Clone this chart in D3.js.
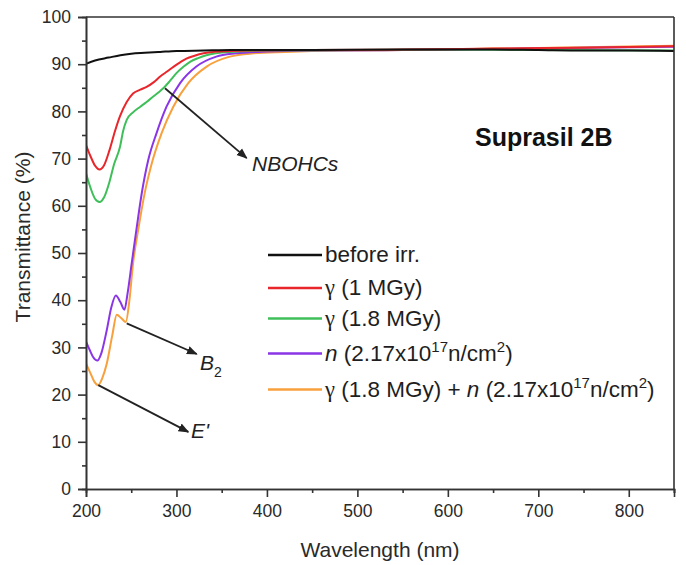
<!DOCTYPE html>
<html>
<head>
<meta charset="utf-8">
<script src="https://cdn.jsdelivr.net/npm/d3@7"></script>
<style>
  body { margin: 0; background: #fff; }
  text { font-family: "Liberation Sans", Arial, sans-serif; }
</style>
</head>
<body>
<div id="chart"></div>
<script>
// data (wavelength nm, transmittance %)
var wlBlack = [200, 210, 225, 238, 250, 265, 282, 300, 330, 360, 450, 550, 650, 700, 750, 800, 850];
var tBlack  = [90.1, 90.8, 91.4, 91.9, 92.2, 92.4, 92.6, 92.8, 92.9, 93.0, 93.0, 93.1, 93.1, 93.0, 92.9, 92.9, 92.8];

var wlRed = [200, 205, 210, 215, 220, 226, 232, 237.6, 245, 252, 260, 267, 275, 282, 290, 297, 304, 311, 320, 330, 348, 380, 450, 550, 650, 750, 850];
var tRed  = [72.9, 70.5, 68.5, 67.7, 68.6, 71.8, 75.8, 79.0, 82.0, 83.8, 84.6, 85.2, 86.2, 87.4, 88.5, 89.5, 90.4, 91.2, 91.8, 92.3, 92.7, 92.9, 93.0, 93.1, 93.3, 93.5, 93.8];

var wlGreen = [200, 205, 210, 215, 220, 226, 231, 237.6, 241, 245, 252, 260, 267, 274, 280, 286, 293, 300, 308, 315, 324, 333, 359, 400, 500, 600, 700, 850];
var tGreen  = [66.9, 63.8, 61.5, 60.8, 61.8, 65.1, 68.8, 72.5, 75.8, 78.2, 79.8, 81.0, 82.0, 83.1, 84.0, 85.0, 86.5, 88.1, 89.5, 90.5, 91.3, 91.9, 92.6, 92.9, 93.0, 93.1, 93.0, 92.9];

var wlPurple = [200, 204, 208, 212.5, 217, 223, 228, 233, 238, 242.5, 246, 250.5, 256, 261.5, 268.8, 278, 289, 304, 322, 344, 366, 400, 450, 550, 650, 750, 850];
var tPurple  = [31.2, 29.5, 27.9, 27.2, 28.8, 33.7, 38.5, 41.0, 39.6, 38.0, 41.5, 47.8, 55.3, 62.5, 69.7, 75.4, 81.0, 86.0, 89.5, 91.6, 92.3, 92.7, 92.9, 93.0, 93.2, 93.5, 93.7];

var wlOrange = [200, 205, 209, 213.5, 218, 223, 229, 234, 239, 244, 248, 252, 257.8, 265.2, 272, 283.6, 296.5, 313, 333.4, 359, 385, 420, 480, 550, 650, 750, 850];
var tOrange  = [26.6, 24.5, 22.8, 22.0, 23.5, 26.6, 32.5, 36.9, 36.2, 35.4, 40.0, 47.8, 55.0, 63.0, 68.5, 75.4, 81.0, 86.0, 89.5, 91.6, 92.3, 92.6, 92.9, 93.0, 93.3, 93.6, 93.9];

var xTicks = [200, 300, 400, 500, 600, 700, 800];
var xMinorTicks = [250, 350, 450, 550, 650, 750, 850];
var yTicks = [0, 10, 20, 30, 40, 50, 60, 70, 80, 90, 100];
var yMinorTicks = [5, 15, 25, 35, 45, 55, 65, 75, 85, 95];

var series = [
  { wl: wlBlack, t: tBlack, color: "#111111" },
  { wl: wlRed, t: tRed, color: "#e8262b" },
  { wl: wlGreen, t: tGreen, color: "#3fbf5a" },
  { wl: wlPurple, t: tPurple, color: "#8a35e6" },
  { wl: wlOrange, t: tOrange, color: "#f7a03c" }
];

var W = 686, H = 565;
var margin = { top: 17, right: 12, bottom: 76, left: 86 };
var width = W - margin.left - margin.right,
    height = H - margin.top - margin.bottom;

var svg = d3.select("#chart").append("svg")
  .attr("width", W)
  .attr("height", H);

var g = svg.append("g")
  .attr("transform", "translate(" + margin.left + "," + margin.top + ")");

var x = d3.scaleLinear().domain([200, 850]).range([0, width]);
var y = d3.scaleLinear().domain([0, 100]).range([height, 0]);

g.append("clipPath").attr("id", "clip")
  .append("rect").attr("width", width).attr("height", height);

var line = d3.line()
  .x(function(d) { return x(d[0]); })
  .y(function(d) { return y(d[1]); })
  .curve(d3.curveMonotoneX);

// back to front: orange, purple, green, red, black
series.slice().reverse().forEach(function(s) {
  var pts = s.wl.map(function(w, i) { return [w, s.t[i]]; });
  g.append("path")
    .datum(pts)
    .attr("clip-path", "url(#clip)")
    .attr("fill", "none")
    .attr("stroke", s.color)
    .attr("stroke-width", 2)
    .attr("d", line);
});

// axes
var axisColor = "#333";
var xAxis = g.append("g")
  .attr("transform", "translate(0," + height + ")")
  .call(d3.axisBottom(x).tickValues(xTicks).tickSize(8).tickPadding(8).tickFormat(d3.format("d")));
var xMinor = g.append("g")
  .attr("transform", "translate(0," + height + ")")
  .call(d3.axisBottom(x).tickValues(xMinorTicks).tickSize(4).tickFormat(""));
var yAxis = g.append("g")
  .call(d3.axisLeft(y).tickValues(yTicks).tickSize(8).tickPadding(7).tickFormat(d3.format("d")));
var yMinor = g.append("g")
  .call(d3.axisLeft(y).tickValues(yMinorTicks).tickSize(4).tickFormat(""));

[xAxis, xMinor, yAxis, yMinor].forEach(function(a) {
  a.select(".domain").attr("stroke", axisColor).attr("stroke-width", 1.6);
  a.selectAll(".tick line").attr("stroke", axisColor).attr("stroke-width", 1.6);
  a.selectAll(".tick text").attr("fill", "#2a2a2a").style("font-size", "17.5px");
});

// frame top and right
g.append("line").attr("x1", 0).attr("x2", width).attr("y1", 0).attr("y2", 0)
  .attr("stroke", axisColor).attr("stroke-width", 1.6);
g.append("line").attr("x1", width).attr("x2", width).attr("y1", 0).attr("y2", height)
  .attr("stroke", axisColor).attr("stroke-width", 1.6);

// axis titles
svg.append("text")
  .attr("x", 380)
  .attr("y", 557)
  .attr("text-anchor", "middle")
  .attr("fill", "#2a2a2a")
  .style("font-size", "21px")
  .text("Wavelength (nm)");

svg.append("text")
  .attr("transform", "translate(30,237) rotate(-90)")
  .attr("text-anchor", "middle")
  .attr("fill", "#2a2a2a")
  .style("font-size", "21px")
  .text("Transmittance (%)");

// sample name
g.append("text")
  .attr("x", x(630))
  .attr("y", y(72.7))
  .attr("fill", "#111")
  .style("font-size", "25px")
  .style("font-weight", "bold")
  .text("Suprasil 2B");

// arrows
svg.append("defs").append("marker")
  .attr("id", "head")
  .attr("viewBox", "0 0 10 10")
  .attr("refX", 9).attr("refY", 5)
  .attr("markerWidth", 6).attr("markerHeight", 6)
  .attr("orient", "auto")
  .append("path").attr("d", "M0,1 L10,5 L0,9 Z").attr("fill", "#222");

var arrows = [
  { from: [287.3, 84.9], to: [377.6, 70.1] },
  { from: [245, 35.1], to: [322.4, 28.6] },
  { from: [213.6, 22.0], to: [313.1, 12.1] }
];
arrows.forEach(function(a) {
  g.append("line")
    .attr("x1", x(a.from[0])).attr("y1", y(a.from[1]))
    .attr("x2", x(a.to[0])).attr("y2", y(a.to[1]))
    .attr("stroke", "#222").attr("stroke-width", 1.8)
    .attr("marker-end", "url(#head)");
});

function label(wl, t, str, sub) {
  var tx = g.append("text")
    .attr("x", x(wl)).attr("y", y(t))
    .attr("fill", "#222")
    .style("font-size", "21px")
    .style("font-style", "italic")
    .text(str);
  if (sub) {
    tx.append("tspan").attr("dy", 7).style("font-size", "14px").style("font-style", "normal").text(sub);
  }
}
label(383.5, 67.4, "NBOHCs");
label(326, 25.2, "B", "2");
label(316, 10.8, "E'");

// legend
var legendRows = [
  { color: "#111111", y: 255, parts: [["before irr.", ""]] },
  { color: "#e8262b", y: 288, parts: [["\u03b3", "g"], [" (1 MGy)", ""]] },
  { color: "#3fbf5a", y: 318.5, parts: [["\u03b3", "g"], [" (1.8 MGy)", ""]] },
  { color: "#8a35e6", y: 353.5, parts: [["n", "i"], [" (2.17x10", ""], ["17", "sup"], ["n/cm", ""], ["2", "sup"], [")", ""]] },
  { color: "#f7a03c", y: 389.5, parts: [["\u03b3", "g"], [" (1.8 MGy) + ", ""], ["n", "i"], [" (2.17x10", ""], ["17", "sup"], ["n/cm", ""], ["2", "sup"], [")", ""]] }
];
var lg = svg.append("g");
legendRows.forEach(function(r) {
  lg.append("line")
    .attr("x1", 268).attr("x2", 322)
    .attr("y1", r.y).attr("y2", r.y)
    .attr("stroke", r.color).attr("stroke-width", 2.4);
  var tx = lg.append("text")
    .attr("x", 325).attr("y", r.y + 7)
    .attr("fill", "#1e1e1e")
    .style("font-size", "22.5px");
  var raised = false;
  r.parts.forEach(function(p) {
    var ts = tx.append("tspan").text(p[0]);
    if (p[1] === "g") ts.style("font-family", "'Liberation Serif', serif");
    if (p[1] === "i") ts.style("font-style", "italic");
    if (p[1] === "sup") {
      ts.attr("dy", raised ? 0 : -9).style("font-size", "15px");
      raised = true;
    } else if (raised) {
      ts.attr("dy", 9);
      raised = false;
    }
  });
});
</script>
</body>
</html>
